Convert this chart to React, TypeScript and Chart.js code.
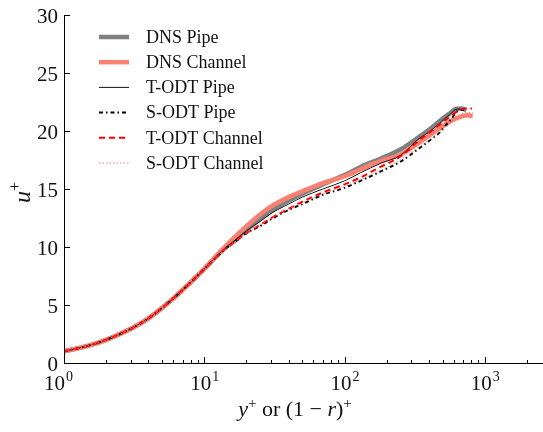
import React, { useEffect, useRef } from "react";
import { Chart, registerables } from "chart.js";

Chart.register(...registerables);

// ---- data (y+ or (1-r)+ , u+) ----
const yPipeDNS = [1, 1.5, 2, 3, 4, 5, 6, 7, 8, 9, 10, 12, 14, 16, 20, 25, 30, 40, 50, 70, 100, 130, 180, 250, 340, 400, 470, 560, 620, 680, 740];
const uPipeDNS = [1.0, 1.5, 2.0, 2.95, 3.85, 4.75, 5.55, 6.3, 6.95, 7.55, 8.1, 9.1, 9.9, 10.5, 11.5, 12.4, 13.1, 14.0, 14.6, 15.4, 16.2, 16.9, 17.6, 18.4, 19.5, 20.1, 20.8, 21.5, 21.9, 21.95, 21.8];

const yChanDNS = [1, 1.5, 2, 3, 4, 5, 6, 7, 8, 9, 10, 12, 14, 16, 20, 25, 30, 40, 50, 70, 100, 130, 180, 250, 340, 400, 470, 560, 660, 750, 820];
const uChanDNS = [1.0, 1.5, 2.0, 2.95, 3.85, 4.75, 5.55, 6.3, 6.95, 7.55, 8.1, 9.15, 10.0, 10.7, 11.8, 12.8, 13.5, 14.3, 14.8, 15.5, 16.1, 16.7, 17.4, 17.95, 19.0, 19.6, 20.2, 20.8, 21.2, 21.35, 21.3];

const yPipeTODT = [1, 1.5, 2, 3, 4, 5, 6, 7, 8, 9, 10, 12, 14, 16, 20, 25, 30, 40, 50, 70, 100, 130, 180, 250, 340, 400, 470, 560, 640, 690];
const uPipeTODT = [1.0, 1.5, 2.0, 2.95, 3.85, 4.75, 5.55, 6.3, 6.95, 7.55, 8.1, 9.1, 9.9, 10.45, 11.4, 12.2, 12.9, 13.7, 14.3, 15.0, 15.7, 16.4, 17.2, 17.9, 19.35, 19.9, 20.6, 21.4, 21.9, 21.85];

const yPipeSODT = [1, 1.5, 2, 3, 4, 5, 6, 7, 8, 9, 10, 12, 14, 16, 20, 25, 30, 40, 50, 70, 100, 130, 180, 250, 340, 406, 470, 564, 664, 710];
const uPipeSODT = [1.0, 1.5, 2.0, 2.95, 3.85, 4.75, 5.55, 6.3, 6.95, 7.55, 8.1, 9.05, 9.8, 10.3, 11.2, 11.8, 12.4, 13.2, 13.7, 14.5, 15.1, 15.7, 16.5, 17.35, 18.5, 19.2, 19.8, 20.9, 21.8, 21.8];

const yChanTODT = [1, 1.5, 2, 3, 4, 5, 6, 7, 8, 9, 10, 12, 14, 16, 20, 25, 30, 40, 50, 70, 100, 130, 180, 250, 340, 406, 470, 560, 660, 740, 810];
const uChanTODT = [1.0, 1.5, 2.0, 2.95, 3.85, 4.75, 5.55, 6.3, 6.95, 7.55, 8.1, 9.05, 9.8, 10.3, 11.2, 11.9, 12.5, 13.3, 13.9, 14.7, 15.4, 16.0, 16.9, 17.8, 19.2, 19.9, 20.5, 21.2, 21.8, 21.95, 21.95];

const yChanSODT = [1, 1.5, 2, 3, 4, 5, 6, 7, 8, 9, 10, 12, 14, 16, 20, 25, 30, 40, 50, 70, 100, 130, 180, 250, 340, 406, 470, 564, 664, 760, 820];
const uChanSODT = [1.0, 1.5, 2.0, 2.95, 3.85, 4.75, 5.55, 6.3, 6.95, 7.55, 8.1, 9.05, 9.8, 10.3, 11.2, 11.9, 12.5, 13.3, 13.8, 14.6, 15.2, 15.8, 16.6, 17.5, 18.6, 19.3, 19.9, 20.7, 21.4, 21.6, 21.6];

const seriesNames = ["DNS Pipe", "DNS Channel", "T-ODT Pipe", "S-ODT Pipe", "T-ODT Channel", "S-ODT Channel"];
const yTicks = [0, 5, 10, 15, 20, 25, 30];
const xDecades = [0, 1, 2, 3];
const xMin = 1;
const xMax = 2600;

const SERIF = "'Liberation Serif', 'Times New Roman', serif";

const styles = [
  { color: "rgb(128,128,128)", width: 4.5, dash: [] as number[] },
  { color: "rgb(250,128,114)", width: 4.5, dash: [] as number[] },
  { color: "rgb(20,20,20)", width: 1, dash: [] as number[] },
  { color: "rgb(0,0,0)", width: 2, dash: [4, 3, 1.5, 3] },
  { color: "rgb(255,0,0)", width: 2, dash: [6, 4] },
  { color: "rgb(255,120,120)", width: 1, dash: [1.5, 2] },
];

const xs = [yPipeDNS, yChanDNS, yPipeTODT, yPipeSODT, yChanTODT, yChanSODT];
const us = [uPipeDNS, uChanDNS, uPipeTODT, uPipeSODT, uChanTODT, uChanSODT];

const decorPlugin = {
  id: "decor",
  afterDraw(chart: any) {
    const { ctx, chartArea, scales } = chart;
    const { left, right, top, bottom } = chartArea;
    const sx = scales.x;
    const sy = scales.y;
    ctx.save();
    ctx.strokeStyle = "#000";
    ctx.lineWidth = 1;
    // spines
    ctx.beginPath();
    ctx.moveTo(left + 0.5, top);
    ctx.lineTo(left + 0.5, bottom + 0.5);
    ctx.lineTo(right, bottom + 0.5);
    ctx.stroke();
    // y ticks
    ctx.fillStyle = "#111";
    ctx.font = `21px ${SERIF}`;
    ctx.textAlign = "right";
    ctx.textBaseline = "alphabetic";
    yTicks.forEach((v) => {
      const py = Math.round(sy.getPixelForValue(v)) + 0.5;
      ctx.beginPath();
      ctx.moveTo(left, py);
      ctx.lineTo(left + 6, py);
      ctx.stroke();
      ctx.fillText(String(v), left - 6, py + 7);
    });
    // x ticks
    xDecades.forEach((d) => {
      for (let k = 1; k <= 9; k++) {
        const v = k * Math.pow(10, d);
        if (v < xMin || v > xMax) continue;
        const px = Math.round(sx.getPixelForValue(v)) + 0.5;
        ctx.beginPath();
        ctx.moveTo(px, bottom);
        ctx.lineTo(px, bottom - (k === 1 ? 6 : 3));
        ctx.stroke();
      }
      const px = sx.getPixelForValue(Math.pow(10, d));
      ctx.font = `21px ${SERIF}`;
      const w1 = ctx.measureText("10").width;
      ctx.font = `14px ${SERIF}`;
      const w2 = ctx.measureText(String(d)).width;
      const x0 = px - (w1 + w2) / 2 - (d === 0 ? 6 : 0);
      ctx.textAlign = "left";
      ctx.font = `21px ${SERIF}`;
      ctx.fillText("10", x0, bottom + 27);
      ctx.font = `14px ${SERIF}`;
      ctx.fillText(String(d), x0 + w1 + 1, bottom + 18);
    });
    // x title: y+ or (1 - r)+
    const parts: [string, string, number][] = [
      ["y", `italic 22px ${SERIF}`, 0],
      ["+", `15px ${SERIF}`, -8],
      [" or (1 \u2212 ", `22px ${SERIF}`, 0],
      ["r", `italic 22px ${SERIF}`, 0],
      [")", `22px ${SERIF}`, 0],
      ["+", `15px ${SERIF}`, -8],
    ];
    let total = 0;
    parts.forEach(([t, f]) => {
      ctx.font = f;
      total += ctx.measureText(t).width;
    });
    let cx = 295 - total / 2;
    const by = bottom + 53;
    ctx.textAlign = "left";
    parts.forEach(([t, f, dy]) => {
      ctx.font = f;
      ctx.fillText(t, cx, by + dy);
      cx += ctx.measureText(t).width;
    });
    // y title: u+
    ctx.save();
    ctx.translate(30, (top + bottom) / 2 + 4);
    ctx.rotate(-Math.PI / 2);
    ctx.font = `italic 24px ${SERIF}`;
    const wu = ctx.measureText("u").width;
    ctx.fillText("u", -wu / 2 - 4, 0);
    ctx.font = `16px ${SERIF}`;
    ctx.fillText("+", wu / 2 - 4, -10);
    ctx.restore();
    // legend
    ctx.font = `18px ${SERIF}`;
    ctx.textBaseline = "middle";
    seriesNames.forEach((name, i) => {
      const ly = 37 + i * 25.2;
      const st = styles[i];
      ctx.save();
      ctx.strokeStyle = st.color;
      ctx.lineWidth = st.width;
      ctx.setLineDash(st.dash);
      ctx.beginPath();
      ctx.moveTo(99, ly);
      ctx.lineTo(129, ly);
      ctx.stroke();
      ctx.restore();
      ctx.fillStyle = "#111";
      ctx.fillText(name, 146, ly + 1);
    });
    ctx.restore();
  },
};

export default function App() {
  const ref = useRef<HTMLCanvasElement | null>(null);
  useEffect(() => {
    document.body.style.margin = "0";
    const order = [6, 5, 4, 3, 2, 1];
    const chart = new Chart(ref.current as HTMLCanvasElement, {
      type: "line",
      data: {
        datasets: seriesNames.map((name, i) => ({
          label: name,
          data: xs[i].map((x, j) => ({ x, y: us[i][j] })),
          borderColor: styles[i].color,
          borderWidth: styles[i].width,
          borderDash: styles[i].dash,
          pointRadius: 0,
          fill: false,
          cubicInterpolationMode: "monotone" as const,
          order: order[i],
        })),
      },
      options: {
        animation: false,
        responsive: true,
        maintainAspectRatio: false,
        layout: { padding: { left: 64, right: 0, top: 15, bottom: 69 } },
        plugins: { legend: { display: false }, tooltip: { enabled: false } },
        scales: {
          x: { type: "logarithmic", min: xMin, max: xMax, display: false },
          y: { type: "linear", min: 0, max: 30, display: false },
        },
      },
      plugins: [decorPlugin],
    });
    return () => chart.destroy();
  }, []);
  return (
    <div style={{ width: 543, height: 432, position: "relative" }}>
      <canvas ref={ref} />
    </div>
  );
}
